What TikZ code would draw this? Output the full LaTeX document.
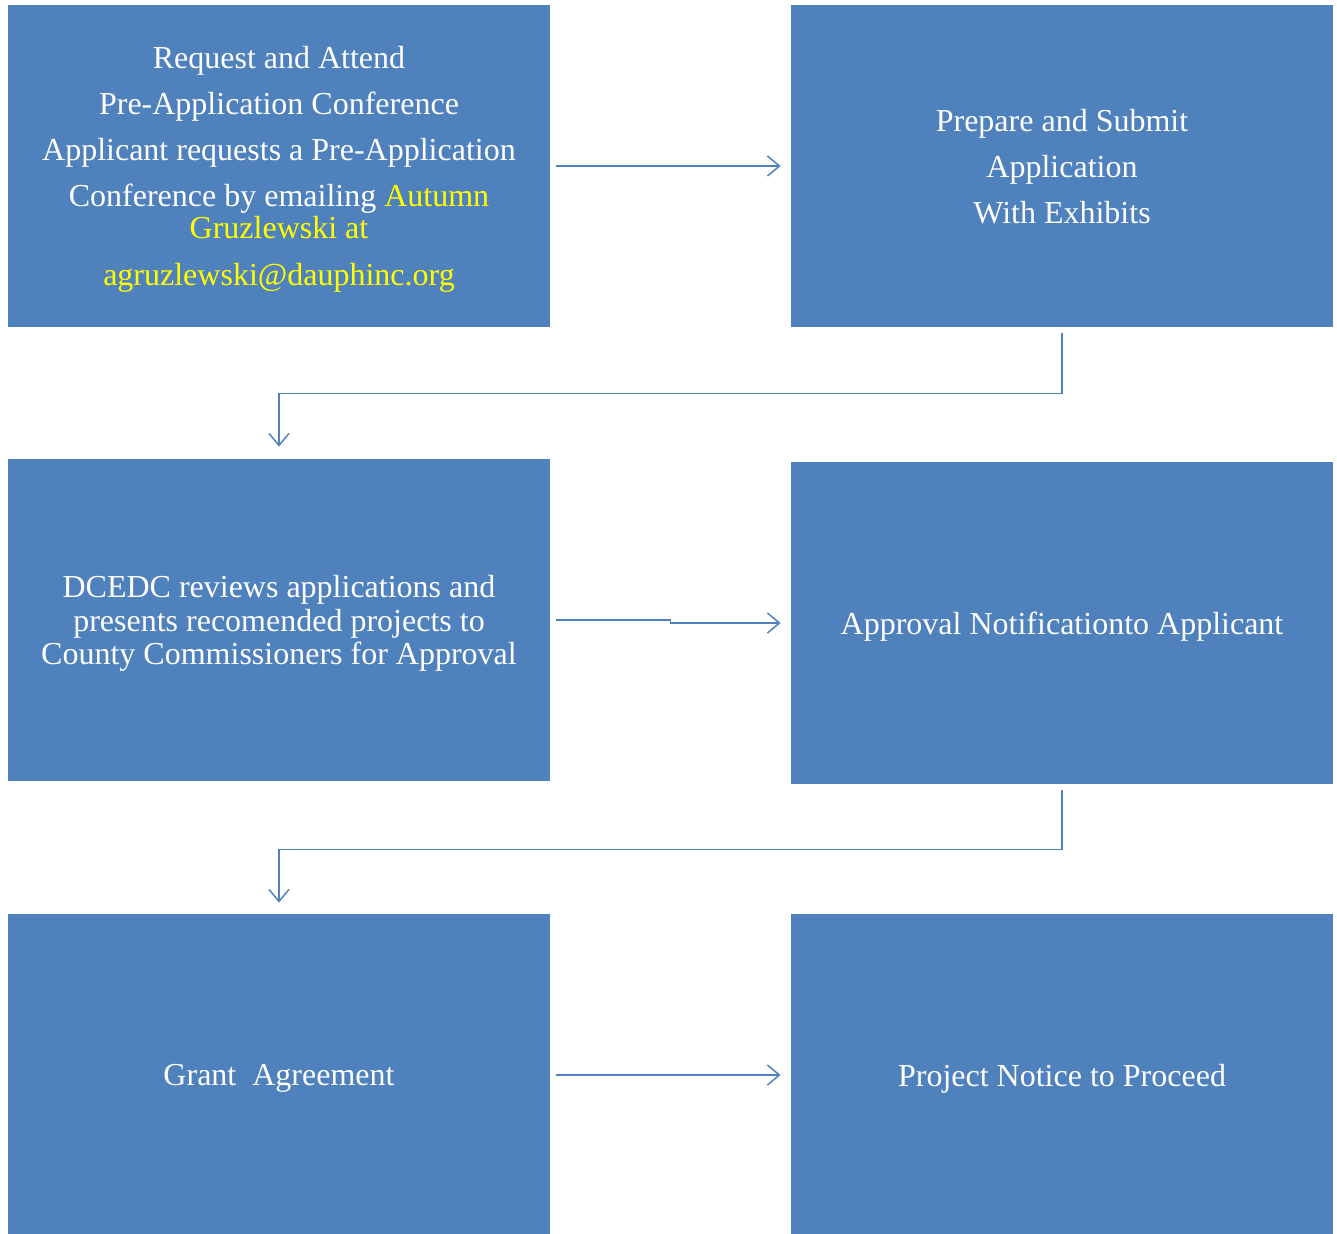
\documentclass[tikz,border=0pt]{standalone}
\usepackage{fontspec}
\setmainfont{Liberation Serif}
\usepackage{xcolor}
\usetikzlibrary{positioning,calc,arrows.meta}
\definecolor{boxblue}{HTML}{4F81BD}
\definecolor{mailyellow}{HTML}{FFFF00}

\begin{document}
\begin{tikzpicture}[x=0.5pt,y=-0.5pt,
    stage/.style={fill=boxblue, text=white, inner sep=0pt, align=center,
      minimum width=271pt, minimum height=161pt, text depth=0pt,
      font=\fontsize{16}{16.75}\selectfont},
    flow/.style={draw=boxblue, line width=0.75pt,
      -{Straight Barb[length=6pt,width=10pt]}}]
    \useasboundingbox (0,0) rectangle (1337,1233);
    \clip (0,0) rectangle (1337,1233);

      % Steps
      \node[stage] (request) at (279,166) {Request and Attend\\[6.25pt]
        Pre-Application Conference\\[6.25pt]
        Applicant requests a Pre-Application\\[6.25pt]
        Conference by emailing \textcolor{mailyellow}{Autumn}\\[-0.75pt]
        \textcolor{mailyellow}{Gruzlewski at}\\[6.75pt]
        \textcolor{mailyellow}{agruzlewski@dauphinc.org}};
      \node[stage] (submit) at (1062,166) {Prepare and Submit\\[6.25pt]
        Application\\[6.25pt] With Exhibits};
      \node[stage] (review) at (279,620) {DCEDC reviews applications and\\
        presents recomended projects to\\
        County Commissioners for Approval};
      \node[stage] (approval) at (1062,623) {Approval Notificationto Applicant};
      \node[stage] (grant) at (279,1075) {Grant\ \ Agreement};
      \node[stage] (proceed) at (1062,1075) {Project Notice to Proceed};

      % Flow
      \draw[flow] ([xshift=3pt]request.east) -- ([xshift=-5pt]submit.west);
      \draw[flow] ([yshift=-3pt]submit.south) -- ++(0,60)
        -| ([yshift=6pt]review.north);
      \draw[flow] ([xshift=3pt]review.east) -- ++(114,0)
        |- ([xshift=-5pt]approval.west);
      \draw[flow] ([yshift=-3pt]approval.south) -- ++(0,59)
        -| ([yshift=5.5pt]grant.north);
      \draw[flow] ([xshift=3pt]grant.east) -- ([xshift=-5pt]proceed.west);
  \end{tikzpicture}
\end{document}
